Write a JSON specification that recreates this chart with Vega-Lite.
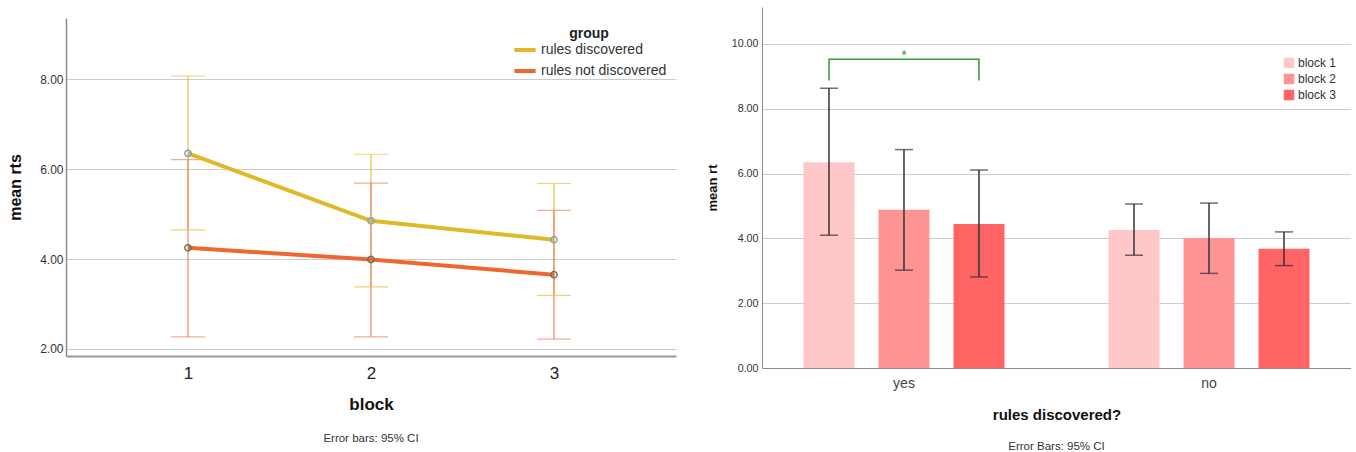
{
  "$schema": "https://vega.github.io/schema/vega-lite/v6.json",
  "background": "white",
  "padding": {"left": 7, "top": 7, "right": 0, "bottom": 0},
  "config": {
    "font": "Liberation Sans",
    "view": {"stroke": null},
    "axis": {"labelColor": "#333333", "titleColor": "#111111", "ticks": false, "tickSize": 0, "gridColor": "#cccccc", "domainColor": "#8c8c8c"}
  },
  "align": "none",
  "bounds": "full",
  "spacing": 30,
  "resolve": {"scale": {"color": "independent"}, "legend": {"color": "independent"}},
  "hconcat": [
    {
      "align": "none",
      "spacing": 10,
      "vconcat": [
        {"width": 500, "height": 1, "data": {"values": []}, "mark": "point", "encoding": {}},
        {
          "width": 610,
          "height": 338,
          "title": {"text": "Error bars: 95% CI", "orient": "bottom", "anchor": "middle", "fontSize": 11.5, "fontWeight": "normal", "color": "#333333", "offset": 21},
          "data": {"values": [
            {"block": 1, "group": "rules discovered", "mean": 6.35, "lo": 4.65, "hi": 8.07},
            {"block": 2, "group": "rules discovered", "mean": 4.85, "lo": 3.38, "hi": 6.33},
            {"block": 3, "group": "rules discovered", "mean": 4.43, "lo": 3.19, "hi": 5.68},
            {"block": 1, "group": "rules not discovered", "mean": 4.25, "lo": 2.27, "hi": 6.21},
            {"block": 2, "group": "rules not discovered", "mean": 3.99, "lo": 2.27, "hi": 5.69},
            {"block": 3, "group": "rules not discovered", "mean": 3.65, "lo": 2.22, "hi": 5.08}
          ]},
          "encoding": {
            "x": {"field": "block", "type": "quantitative",
              "scale": {"domain": [0.333, 3.667], "nice": false, "zero": false},
              "axis": {"values": [1, 2, 3], "format": "d", "grid": false, "labelFontSize": 17, "labelColor": "#222222", "labelPadding": 9, "domainWidth": 2, "domainColor": "#999999", "title": "block", "titleFontSize": 17, "titleFontWeight": "bold", "titlePadding": 15}}
          },
          "layer": [
            {
              "mark": {"type": "rule", "strokeWidth": 1.2},
              "encoding": {
                "y": {"field": "lo", "type": "quantitative",
                  "scale": {"domain": [1.844, 9.36], "nice": false, "zero": false},
                  "axis": {"values": [2, 4, 6, 8], "format": ".2f", "grid": true, "labelFontSize": 12, "labelPadding": 3, "domainWidth": 1.5, "title": "mean rts", "titleFontSize": 16, "titleFontWeight": "bold", "titlePadding": 16}},
                "y2": {"field": "hi"},
                "color": {"condition": {"test": "datum.group === 'rules discovered'", "value": "#E6C23E"}, "value": "#F08766"}
              }
            },
            {
              "mark": {"type": "tick", "orient": "horizontal", "size": 34, "thickness": 1.2},
              "encoding": {
                "y": {"field": "lo", "type": "quantitative"},
                "color": {"condition": {"test": "datum.group === 'rules discovered'", "value": "#E6C23E"}, "value": "#F08766"}
              }
            },
            {
              "mark": {"type": "tick", "orient": "horizontal", "size": 34, "thickness": 1.2},
              "encoding": {
                "y": {"field": "hi", "type": "quantitative"},
                "color": {"condition": {"test": "datum.group === 'rules discovered'", "value": "#E6C23E"}, "value": "#F08766"}
              }
            },
            {
              "mark": {"type": "line", "strokeWidth": 4, "interpolate": "linear"},
              "encoding": {
                "y": {"field": "mean", "type": "quantitative"},
                "color": {"field": "group", "type": "nominal",
                  "scale": {"domain": ["rules discovered", "rules not discovered"], "range": ["#E0B928", "#EE6630"]},
                  "legend": {"title": "group", "orient": "none", "legendX": 446, "legendY": 20, "padding": 0, "titleFontSize": 14, "titleFontWeight": "bold", "titleColor": "#222222", "titleAlign": "center", "titleAnchor": "middle", "titlePadding": -4, "labelFontSize": 14, "labelColor": "#333333", "labelOffset": 3, "symbolType": "stroke", "symbolStrokeWidth": 4, "symbolSize": 450, "rowPadding": -2}}
              }
            },
            {
              "mark": {"type": "point", "filled": false, "size": 40, "strokeWidth": 1.5, "opacity": 1},
              "encoding": {
                "y": {"field": "mean", "type": "quantitative"},
                "color": {"condition": {"test": "datum.group === 'rules discovered'", "value": "#7FA2C8"}, "value": "#6e6e6e"}
              }
            }
          ]
        }
      ]
    },
    {
      "width": 589,
      "height": 361,
      "title": {"text": "Error Bars: 95% CI", "orient": "bottom", "anchor": "middle", "fontSize": 11.5, "fontWeight": "normal", "color": "#333333", "offset": 19},
      "layer": [
        {
          "data": {"values": [
            {"grp": "yes", "block": "block 1", "mean": 6.35, "lo": 4.10, "hi": 8.63},
            {"grp": "yes", "block": "block 2", "mean": 4.88, "lo": 3.02, "hi": 6.74},
            {"grp": "yes", "block": "block 3", "mean": 4.44, "lo": 2.81, "hi": 6.11},
            {"grp": "no", "block": "block 1", "mean": 4.26, "lo": 3.48, "hi": 5.06},
            {"grp": "no", "block": "block 2", "mean": 4.01, "lo": 2.92, "hi": 5.09},
            {"grp": "no", "block": "block 3", "mean": 3.68, "lo": 3.16, "hi": 4.20}
          ]},
          "encoding": {
            "x": {"field": "grp", "type": "nominal",
              "scale": {"domain": ["yes", "no"], "paddingInner": 0.069, "paddingOuter": 0},
              "axis": {"labelAngle": 0, "labelFontSize": 14, "labelColor": "#444444", "labelPadding": 8, "title": "rules discovered?", "titleFontSize": 15, "titleFontWeight": "bold", "titlePadding": 17}},
            "xOffset": {"field": "block", "type": "nominal", "scale": {"domain": ["block 1", "block 2", "block 3"], "paddingInner": 0.32, "paddingOuter": 0.553}}
          },
          "layer": [
            {
              "mark": {"type": "bar"},
              "encoding": {
                "y": {"field": "mean", "type": "quantitative",
                  "scale": {"domain": [0, 11.14], "nice": false},
                  "axis": {"values": [0, 2, 4, 6, 8, 10], "format": ".2f", "grid": true, "labelFontSize": 10.7, "labelPadding": 4, "title": "mean rt", "titleFontSize": 13, "titleFontWeight": "bold", "titlePadding": 12}},
                "color": {"field": "block", "type": "nominal",
                  "scale": {"domain": ["block 1", "block 2", "block 3"], "range": ["#FFC7C7", "#FF9494", "#FF6565"]},
                  "legend": {"title": null, "orient": "none", "legendX": 521, "legendY": 50, "padding": 0, "symbolType": "square", "symbolSize": 110, "symbolStrokeWidth": 0, "labelFontSize": 12, "labelColor": "#333333", "labelOffset": 3, "rowPadding": 4}}
              }
            },
            {
              "mark": {"type": "rule", "strokeWidth": 1.5, "color": "#333333"},
              "encoding": {
                "y": {"field": "lo", "type": "quantitative"},
                "y2": {"field": "hi"}
              }
            },
            {
              "mark": {"type": "tick", "orient": "horizontal", "size": 18, "thickness": 1.5, "color": "#333333"},
              "encoding": {"y": {"field": "lo", "type": "quantitative"}}
            },
            {
              "mark": {"type": "tick", "orient": "horizontal", "size": 18, "thickness": 1.5, "color": "#333333"},
              "encoding": {"y": {"field": "hi", "type": "quantitative"}}
            }
          ]
        },
        {
          "data": {"values": [
            {"grp": "yes", "block": "block 1", "v": 8.87, "o": 1},
            {"grp": "yes", "block": "block 1", "v": 9.53, "o": 2},
            {"grp": "yes", "block": "block 3", "v": 9.53, "o": 3},
            {"grp": "yes", "block": "block 3", "v": 8.87, "o": 4}
          ]},
          "mark": {"type": "line", "strokeWidth": 1.5, "color": "#2E9A3C"},
          "encoding": {
            "x": {"field": "grp", "type": "nominal"},
            "xOffset": {"field": "block", "type": "nominal"},
            "y": {"field": "v", "type": "quantitative"},
            "order": {"field": "o", "type": "quantitative"}
          }
        },
        {
          "data": {"values": [{"grp": "yes", "block": "block 2", "v": 9.5, "label": "*"}]},
          "mark": {"type": "text", "color": "#2E9A3C", "fontSize": 14, "baseline": "alphabetic", "align": "center"},
          "encoding": {
            "x": {"field": "grp", "type": "nominal"},
            "xOffset": {"field": "block", "type": "nominal"},
            "y": {"field": "v", "type": "quantitative"},
            "text": {"field": "label"}
          }
        }
      ]
    }
  ]
}
